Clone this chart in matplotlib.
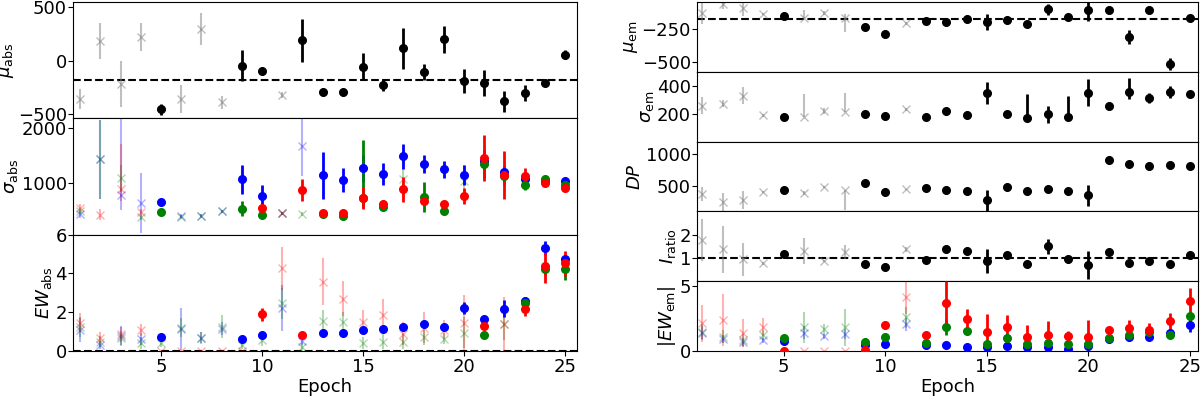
import matplotlib

matplotlib.use("Agg")
import matplotlib.pyplot as plt  # noqa: E402
import numpy as np  # noqa: E402

# epochs and which ones are "good" (filled circles) vs flagged (faded crosses)
epochs = [1, 2, 3, 4, 5, 6, 7, 8, 9, 10, 11, 12, 13, 14, 15, 16, 17, 18, 19, 20, 21, 22, 23, 24, 25]
good_main = [0, 0, 0, 0, 1, 0, 0, 0, 1, 1, 0, 1, 1, 1, 1, 1, 1, 1, 1, 1, 1, 1, 1, 1, 1]

# --- absorption (left column) ---
mu_abs = [-362, 181, -219, 219, -457, -362, 295, -390, -48, -95, -324, 190, -295,
          -295, -57, -229, 114, -105, 200, -190, -210, -381, -305, -210, 57]
mu_abs_err = [95, 170, 215, 130, 50, 130, 150, 60, 145, 40, 30, 200, 40, 20, 125,
              60, 190, 75, 125, 115, 125, 100, 75, 25, 40]
mu_abs_ref = -180

# None = no measurement
sig_abs_b = [420, 1425, 782, 625, 649, 395, 395, 473, 1061, 758, 436, 1680, 1134,
             1049, 1262, 1158, 1485, 1345, 1243, 1145, 1400, 1200, 1073, 1030, 1030]
sig_abs_b_err = [60, 715, (290, 1500), 545, 60, 40, 40, 30, 265, 200, 30, 550, 433,
                 215, 250, 205, 227, 170, 160, 180, 100, 100, 80, 40, 40]
sig_abs_g = [485, 1425, 1080, 364, 455, 375, 395, 473, 527, 407, 436, 425, 419, 394,
             716, 564, 1061, 734, 480, 1030, 1345, 1115, 964, 1061, 952]
sig_abs_g_err = [55, 715, 250, 40, 30, 40, 30, 30, 130, 30, 30, 30, 30, 30, (170, 1060),
                 30, 400, 270, 30, 300, 250, 150, 100, 30, 30]
sig_abs_r = [545, 413, 880, 467, None, None, None, None, None, 533, 436, 867, 443, 443,
             716, 607, 880, 661, 612, 758, 1455, 1134, 1115, 1000, 909]
sig_abs_r_err = [60, 100, (215, 820), 60, 0, 0, 0, 0, 0, 30, 30, 195, 30, 30, 197,
                 70, 230, 60, 50, 150, 420, 440, 150, 30, 40]
good_sig_abs_b = [0, 0, 0, 0, 1, 0, 0, 0, 1, 1, 0, 0, 1, 1, 1, 1, 1, 1, 1, 1, 1, 1, 1, 1, 1]
good_sig_abs_g = [0, 0, 0, 0, 1, 0, 0, 0, 1, 1, 0, 0, 1, 1, 1, 1, 0, 1, 1, 0, 1, 1, 1, 1, 1]
good_sig_abs_r = [0, 0, 0, 0, 0, 0, 0, 0, 0, 1, 0, 1, 1, 1, 1, 1, 1, 1, 1, 1, 1, 1, 1, 1, 1]

ew_abs_b = [1.07, 0.31, 0.78, 0.6, 0.73, 1.12, 0.68, 1.15, 0.6, 0.82, 2.21, 0.5, 0.9,
            0.9, 1.07, 1.14, 1.22, 1.41, 1.22, 2.21, 1.63, 2.18, 2.57, 5.32, 4.76]
ew_abs_b_err = [0.6, 0.2, 0.5, 0.3, 0.1, 1.1, 0.3, 0.35, 0.1, 0.1, 1.2, 0.2, 0.1, 0.1,
                0.1, 0.1, 0.1, 0.1, 0.1, 0.3, 0.15, 0.45, 0.2, 0.35, 0.2]
ew_abs_g = [1.24, 0.48, 0.65, 0.42, 0.42, 1.19, 0.65, 1.24, 0.31, 0.55, 2.46, 0.2, 1.53,
            1.5, 0.39, 0.48, 0.48, 0.7, 0.63, 0.93, 0.8, 1.38, 2.48, 4.22, 4.23]
ew_abs_g_err = [0.5, 0.3, 0.4, 0.3, 0.2, 0.5, 0.3, 0.6, 0.2, 0.3, 0.8, 0.2, 0.6, 0.5,
                0.3, 0.4, 0.4, 0.4, 0.3, 0.8, 0.15, 0.8, 0.2, 0.3, 0.6]
ew_abs_r = [1.46, 0.68, 0.85, 1.07, 0, 0, 0, 0, 0, 1.89, 4.25, 0.82, 3.57, 2.69, 1.5,
            1.87, 0.88, 1.2, 1.1, 1.46, 1.29, 1.38, 2.14, 4.4, 4.52]
ew_abs_r_err = [0.5, 0.3, 0.4, 0.3, 0, 0, 0, 0, 0, 0.33, 1.1, 0.15, 1.2, 0.9, 0.6, 0.8,
                0.6, 0.8, 0.5, 1.4, 0.15, 1.4, 0.35, 0.9, 0.65]
good_ew_abs_b = [0, 0, 0, 0, 1, 0, 0, 0, 1, 1, 0, 0, 1, 1, 1, 1, 1, 1, 1, 1, 1, 1, 1, 1, 1]
good_ew_abs_g = [0, 0, 0, 0, 0, 0, 0, 0, 0, 0, 0, 0, 0, 0, 0, 0, 0, 0, 0, 0, 1, 0, 1, 1, 1]
good_ew_abs_r = [0, 0, 0, 0, 0, 0, 0, 0, 0, 1, 0, 1, 0, 0, 0, 0, 0, 0, 0, 0, 1, 0, 1, 1, 1]

# --- emission (right column) ---
mu_em = [-138, -68, -100, -143, -158, -175, -133, -175, -238, -288, -212, -195, -205,
         -178, -200, -183, -218, -108, -163, -113, -113, -313, -113, -513, -168]
mu_em_err = [80, 40, 55, 10, 10, (0, 60), 15, (100, 30), 15, 10, 10, 10, 15, 10, 60,
             15, 10, 40, 15, 80, 10, 55, 20, 45, 10]
mu_em_ref = -176

sig_em = [256, 272, 328, 188, 176, 176, 220, 212, 200, 183, 232, 178, 220, 188, 350,
          200, 167, 195, 176, 350, 256, 355, 311, 355, 340]
sig_em_err = [60, 25, 60, 10, 10, (0, 165), 20, (0, 133), 20, 10, 10, 10, 10, 10, 78,
              (0, 20), (0, 173), 60, (0, 147), 95, 10, (50, 100), 35, 40, 10]

dp = [375, 255, 292, 411, 448, 401, 490, 437, 552, 411, 453, 474, 448, 427, 292, 484,
      427, 453, 427, 360, 906, 855, 817, 828, 812]
dp_err = [110, 140, 140, 10, 10, 30, 10, (310, 0), 15, 10, 10, 10, 10, 10, (200, 156),
          10, 10, 10, 10, 160, 10, 20, 10, 10, 10]

i_ratio = [1.76, 1.36, 0.93, 0.76, 1.16, 1.3, 0.86, 1.26, 0.73, 0.59, 1.36, 0.9, 1.37,
           1.29, 0.86, 1.12, 0.74, 1.5, 0.93, 0.69, 1.26, 0.79, 0.86, 0.74, 1.1]
i_ratio_err = [0.9, 1.0, 0.7, 0.05, 0.05, 0.55, 0.05, 0.3, 0.05, 0.05, 0.1, 0.05, 0.05,
               0.05, 0.5, 0.1, 0.05, 0.32, 0.15, 0.6, 0.05, 0.05, 0.05, 0.05, 0.05]

ew_em_r = [2.1, 2.36, 1.38, 1.85, 0, 0, 0, 0, 0.05, 1.98, 4.15, 1.2, 3.64, 2.44, 1.46,
           1.85, 1.05, 1.21, 1.13, 1.1, 1.59, 1.72, 1.62, 2.28, 3.82]
ew_em_r_err = [1.4, 2.0, 1.1, 0.7, 0.05, 0, 0, 0, 0.05, 0.3, 1.3, 0.15, 1.7, 0.8, 1.4,
               0.9, 0.9, 1.1, 0.4, 1.3, 0.2, 0.65, 0.5, 0.6, 1.0]
ew_em_g = [1.46, 1.08, 0.8, 1.2, 1.0, 1.8, 1.64, 1.8, 0.7, 1.03, 2.57, 0.59, 1.85, 1.54,
           0.51, 1.0, 0.49, 0.59, 0.54, 0.49, 0.97, 1.23, 1.41, 1.18, 2.64]
ew_em_g_err = [0.6, 0.5, 0.5, 0.4, 0.15, 1.2, 0.4, 1.4, 0.3, 0.15, 0.8, 0.1, 0.6, 0.3,
               0.1, 0.3, 0.1, 0.1, 0.1, 0.1, 0.1, 0.1, 0.15, 0.2, 0.3]
ew_em_b = [1.38, 0.88, 0.7, 0.82, 0.77, 1.38, 1.13, 1.28, 0.44, 0.52, 2.05, 0.46, 0.44,
           0.26, 0.26, 0.36, 0.28, 0.26, 0.18, 0.4, 0.9, 1.08, 1.03, 1.38, 1.98]
ew_em_b_err = [0.5, 0.3, 0.3, 0.2, 0.1, 0.5, 0.2, 0.4, 0.1, 0.1, 0.5, 0.1, 0.1, 0.1, 0.1,
               0.1, 0.1, 0.1, 0.1, 0.1, 0.1, 0.3, 0.2, 0.2, 0.5]


def _yerr(errs):
    lo = [e[0] if isinstance(e, tuple) else e for e in errs]
    hi = [e[1] if isinstance(e, tuple) else e for e in errs]
    return np.array([lo, hi], dtype=float)


def _draw(ax, vals, errs, good, color, faded=None, alpha=0.3, part="both"):
    x = np.asarray(epochs)
    v = np.array([np.nan if a is None else a for a in vals], dtype=float)
    e = _yerr(errs)
    g = np.asarray(good, dtype=bool)
    if part in ("both", "faded") and (~g).any():
        ax.errorbar(x[~g], v[~g], yerr=e[:, ~g], fmt="x", ms=6, mew=1.0,
                    color=faded or color, alpha=alpha, elinewidth=1.5, capsize=0,
                    zorder=2)
    if part in ("both", "good") and g.any():
        ax.errorbar(x[g], v[g], yerr=e[:, g], fmt="o", ms=5.5, color=color,
                    elinewidth=2, capsize=0, zorder=3)


def _draw_rgb(ax, series):
    for vals, errs, good, c in series:
        _draw(ax, vals, errs, good, c, part="faded")
    for vals, errs, good, c in series:
        _draw(ax, vals, errs, good, c, part="good")


plt.rcParams["font.size"] = 13
plt.rcParams["xtick.major.pad"] = 2
plt.rcParams["ytick.major.pad"] = 1
plt.rcParams["axes.labelpad"] = 1
fig = plt.figure(figsize=(12, 3.96), dpi=100)

gl = fig.add_gridspec(3, 1, left=0.061, right=0.481, top=0.995, bottom=0.114, hspace=0)
gr = fig.add_gridspec(5, 1, left=0.581, right=0.9985, top=0.995, bottom=0.114, hspace=0)
axl = [fig.add_subplot(gl[i]) for i in range(3)]
axr = [fig.add_subplot(gr[i]) for i in range(5)]

# left column
ax = axl[0]
_draw(ax, mu_abs, mu_abs_err, good_main, "k", faded="grey", alpha=0.5)
ax.axhline(mu_abs_ref, color="k", ls="--", lw=1.5, zorder=1)
ax.set_ylim(-540, 550)
ax.set_yticks([-500, 0, 500])
ax.set_ylabel(r"$\mu_{\rm abs}$")

ax = axl[1]
_draw_rgb(ax, [(sig_abs_b, sig_abs_b_err, good_sig_abs_b, "blue"),
               (sig_abs_g, sig_abs_g_err, good_sig_abs_g, "green"),
               (sig_abs_r, sig_abs_r_err, good_sig_abs_r, "red")])
ax.set_ylim(50, 2180)
ax.set_yticks([1000, 2000])
ax.set_ylabel(r"$\sigma_{\rm abs}$")

ax = axl[2]
_draw_rgb(ax, [(ew_abs_b, ew_abs_b_err, good_ew_abs_b, "blue"),
               (ew_abs_g, ew_abs_g_err, good_ew_abs_g, "green"),
               (ew_abs_r, ew_abs_r_err, good_ew_abs_r, "red")])
ax.axhline(0, color="k", ls="--", lw=1.5, zorder=1)
ax.set_ylim(0, 6)
ax.set_yticks([0, 2, 4, 6])
ax.set_ylabel(r"$EW_{\rm abs}$")
ax.set_xlabel("Epoch")

for ax in axl:
    ax.set_xlim(0.65, 25.6)
    ax.set_xticks([5, 10, 15, 20, 25])
for ax in axl[:-1]:
    ax.tick_params(labelbottom=False)

# right column
ax = axr[0]
_draw(ax, mu_em, mu_em_err, good_main, "k", faded="grey", alpha=0.5)
ax.axhline(mu_em_ref, color="k", ls="--", lw=1.5, zorder=1)
ax.set_ylim(-570, -53)
ax.set_yticks([-500, -250])
ax.set_ylabel(r"$\mu_{\rm em}$")

ax = axr[1]
_draw(ax, sig_em, sig_em_err, good_main, "k", faded="grey", alpha=0.5)
ax.set_ylim(0, 500)
ax.set_yticks([200, 400])
ax.set_ylabel(r"$\sigma_{\rm em}$")

ax = axr[2]
_draw(ax, dp, dp_err, good_main, "k", faded="grey", alpha=0.5)
ax.set_ylim(110, 1200)
ax.set_yticks([500, 1000])
ax.set_ylabel(r"$DP$")

ax = axr[3]
_draw(ax, i_ratio, i_ratio_err, good_main, "k", faded="grey", alpha=0.5)
ax.axhline(1, color="k", ls="--", lw=1.5, zorder=1)
ax.set_ylim(0, 3)
ax.set_yticks([1, 2])
ax.set_ylabel(r"$I_{\rm ratio}$")

ax = axr[4]
_draw_rgb(ax, [(ew_em_b, ew_em_b_err, good_main, "blue"),
               (ew_em_g, ew_em_g_err, good_main, "green"),
               (ew_em_r, ew_em_r_err, good_main, "red")])
ax.set_ylim(0, 5.35)
ax.set_yticks([0, 5])
ax.set_ylabel(r"$|EW_{\rm em}|$")
ax.set_xlabel("Epoch")

for ax in axr:
    ax.set_xlim(0.75, 25.4)
    ax.set_xticks([5, 10, 15, 20, 25])
for ax in axr[:-1]:
    ax.tick_params(labelbottom=False)

fig.savefig("out.png", dpi=100)
